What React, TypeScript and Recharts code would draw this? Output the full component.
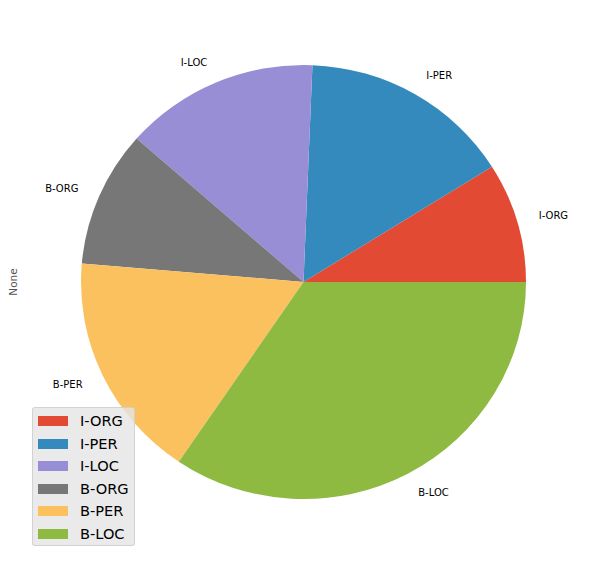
import React from 'react';
import { PieChart, Pie, Cell, Legend, Customized } from 'recharts';

const categories = ['I-ORG', 'I-PER', 'I-LOC', 'B-ORG', 'B-PER', 'B-LOC'];
const counts = [892, 1544, 1414, 1014, 1689, 3447];
const colors = ['#E24A33', '#348ABD', '#988ED5', '#777777', '#FBC15E', '#8EBA42'];
const yAxisLabel = 'None';

const data = categories.map((name, i) => ({ name, value: counts[i] }));

const CX = 303.5;
const CY = 282;
const RY = 217;
const RX = 222.5;
const RAD = Math.PI / 180;
const FONT = '"DejaVu Sans", sans-serif';

const renderLabel = (props: any) => {
  const { cx, cy, midAngle, name } = props;
  const x = cx + 1.1 * RX * Math.cos(midAngle * RAD);
  const y = cy - 1.1 * RY * Math.sin(midAngle * RAD);
  return (
    <text
      x={x}
      y={y}
      textAnchor={x > cx ? 'start' : 'end'}
      dominantBaseline="central"
      fontSize={10}
      fontFamily={FONT}
      fill="#000"
    >
      {name}
    </text>
  );
};

const LegendBox = () => (
  <div
    style={{
      width: 103,
      height: 139,
      boxSizing: 'border-box',
      background: 'rgba(229,229,229,0.8)',
      border: '1px solid rgba(204,204,204,0.8)',
      borderRadius: 3,
      paddingTop: 2,
      fontFamily: FONT,
    }}
  >
    {categories.map((c, i) => (
      <div key={c} style={{ display: 'flex', alignItems: 'center', height: 22.5 }}>
        <div style={{ width: 30, height: 10, background: colors[i], marginLeft: 5, marginRight: 12 }} />
        <span style={{ fontSize: 14.6, color: '#000', lineHeight: '22.5px' }}>{c}</span>
      </div>
    ))}
  </div>
);

const YLabel = () => (
  <text
    x={13}
    y={CY}
    transform={`rotate(-90 13 ${CY})`}
    textAnchor="middle"
    dominantBaseline="central"
    fontSize={10.5}
    fontFamily={FONT}
    fill="#555555"
  >
    {yAxisLabel}
  </text>
);

export default function App() {
  return (
    <div style={{ position: 'absolute', left: 0, top: 0, width: 592, height: 565, background: '#fff' }}>
      <style>{`.recharts-sector { transform-origin: ${CX}px ${CY}px; transform: scaleX(${RX / RY}); }`}</style>
      <PieChart width={592} height={565} margin={{ top: 0, right: 0, bottom: 0, left: 0 }}>
        <Pie
          data={data}
          dataKey="value"
          nameKey="name"
          cx={CX}
          cy={CY}
          outerRadius={RY}
          innerRadius={0}
          startAngle={0}
          endAngle={360}
          stroke="none"
          label={renderLabel}
          labelLine={false}
          isAnimationActive={false}
        >
          {data.map((d, i) => (
            <Cell key={d.name} fill={colors[i]} />
          ))}
        </Pie>
        <Customized component={YLabel} />
        <Legend
          content={<LegendBox />}
          wrapperStyle={{ position: 'absolute', left: 32, top: 407, width: 103, height: 139 }}
        />
      </PieChart>
    </div>
  );
}
